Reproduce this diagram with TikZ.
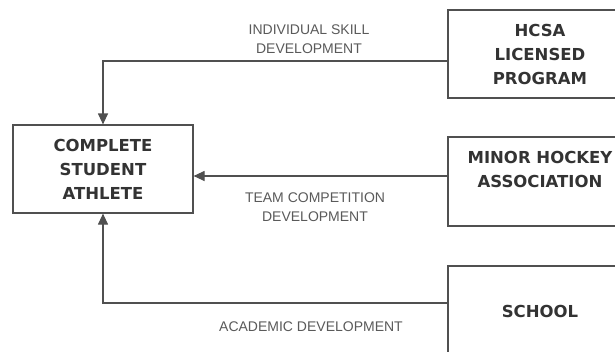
\documentclass[tikz,border=0pt]{standalone}
\usepackage{fontspec}
\usetikzlibrary{arrows.meta}
\newfontfamily\boxfont{DejaVu Sans}
\newfontfamily\labfont{Liberation Sans}
\definecolor{linec}{HTML}{505050}
\definecolor{boxtext}{HTML}{333333}
\definecolor{labtext}{HTML}{5A5A5A}
\begin{document}
\begin{tikzpicture}[x=1pt,y=-1pt,
  box/.style={draw=linec, line width=1.2pt, rectangle, inner sep=0pt, align=center,
    font=\boxfont\bfseries\fontsize{16.5}{24}\selectfont, text=boxtext},
  lab/.style={align=center, inner sep=0pt, font=\labfont\fontsize{14}{19}\selectfont, text=labtext},
  arr/.style={draw=linec, line width=1.2pt, -{Triangle[length=11pt,width=10pt]}}]
\useasboundingbox (0,0) rectangle (615,351);
\clip (0,0) rectangle (615,351);
\fill[white] (0,0) rectangle (615,351);
% boxes
\node[box, minimum width=180pt, minimum height=88pt] (csa) at (103,169) {COMPLETE\\STUDENT\\ATHLETE};
\node[box, minimum width=184pt, minimum height=88pt] (hcsa) at (540,54) {HCSA\\LICENSED\\PROGRAM};
\node[box, minimum width=184pt, minimum height=89pt] (mha) at (540,181.5) {};
\node[box, draw=none, anchor=center] (mhat) at (540,169) {MINOR HOCKEY\\ASSOCIATION};
\node[box, minimum width=184pt, minimum height=90pt] (school) at (540,311) {SCHOOL};
% connector anchors
\coordinate (y1) at (0,61);
\coordinate (y2) at (0,176);
\coordinate (y3) at (0,303);
\draw[arr] (hcsa.west |- y1) -| (csa.north);
\draw[arr] (mha.west |- y2) -- (csa.east |- y2);
\draw[arr] (school.west |- y3) -| (csa.south);
% labels
\node[lab] (l1) at (309,39.5) {INDIVIDUAL SKILL\\DEVELOPMENT};
\node[lab] (l2) at (315,207.5) {TEAM COMPETITION\\DEVELOPMENT};
\node[lab] (l3) at (311,327) {ACADEMIC DEVELOPMENT};
\end{tikzpicture}
\end{document}
